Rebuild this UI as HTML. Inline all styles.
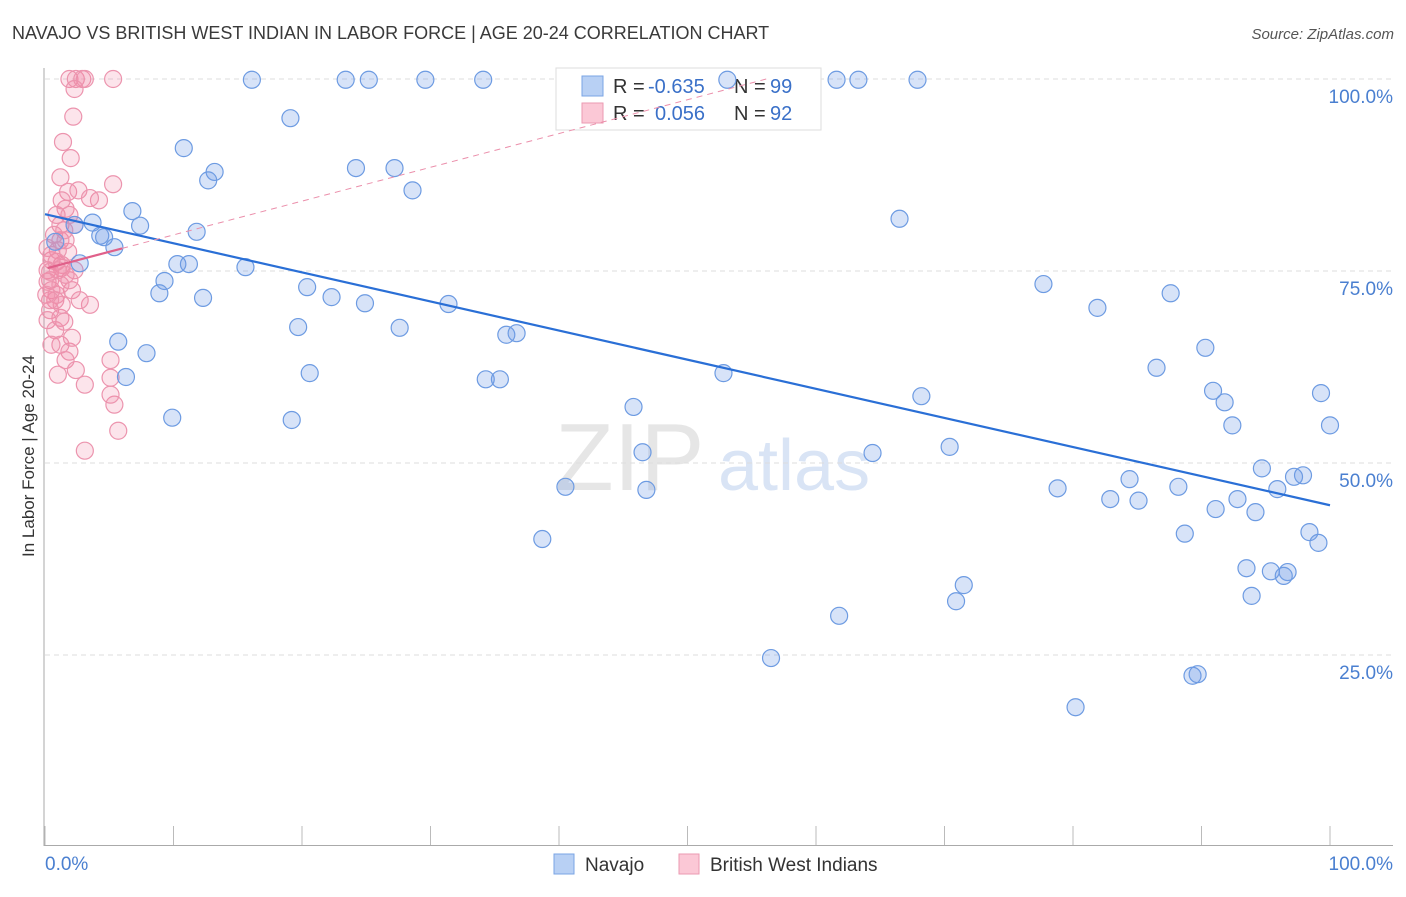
<!DOCTYPE html>
<html><head><meta charset="utf-8"><style>
body{margin:0;background:#fff;font-family:"Liberation Sans",sans-serif;}
svg text{font-family:"Liberation Sans",sans-serif;}
</style></head><body>
<svg id="chart" width="1406" height="892" xmlns="http://www.w3.org/2000/svg">
<text x="12" y="39" font-size="18" fill="#3a3a3a">NAVAJO VS BRITISH WEST INDIAN IN LABOR FORCE | AGE 20-24 CORRELATION CHART</text>
<text x="1394" y="39" font-size="15" fill="#555" font-style="italic" text-anchor="end">Source: ZipAtlas.com</text>
<text transform="translate(34,456) rotate(-90)" font-size="17" fill="#333" text-anchor="middle">In Labor Force | Age 20-24</text>
<g>
<text x="555" y="490" font-size="96" fill="#dcdcdc" font-family="Liberation Serif" opacity="0.7">ZIP</text>
<text x="718" y="490" font-size="72" fill="#c9d9f2" opacity="0.7">atlas</text>
</g>
<g id="grid"></g>
<g id="axes"></g>
<g>
<rect x="556" y="68" width="265" height="62" fill="#fff" stroke="#ddd"/>
<rect x="582" y="76" width="21" height="20" fill="#b8d0f4" stroke="#7aa4e4"/>
<rect x="582" y="103" width="21" height="20" fill="#fbc8d6" stroke="#eb9ab2"/>
<text x="613" y="93" font-size="20" fill="#333">R =</text>
<text x="648" y="93" font-size="20" fill="#3a70c8">-0.635</text>
<text x="734" y="93" font-size="20" fill="#333">N =</text>
<text x="770" y="93" font-size="20" fill="#3a70c8">99</text>
<text x="613" y="120" font-size="20" fill="#333">R =</text>
<text x="655" y="120" font-size="20" fill="#3a70c8">0.056</text>
<text x="734" y="120" font-size="20" fill="#333">N =</text>
<text x="770" y="120" font-size="20" fill="#3a70c8">92</text>
</g>
<g id="pts"></g>
<g id="lines"></g>
<g>
<rect x="554" y="854" width="20" height="20" fill="#b8d0f4" stroke="#7aa4e4"/>
<text x="585" y="871" font-size="19" fill="#333">Navajo</text>
<rect x="679" y="854" width="20" height="20" fill="#fbc8d6" stroke="#eb9ab2"/>
<text x="710" y="871" font-size="19" fill="#333">British West Indians</text>
</g>
</svg>
<script>
const yTicks=[25,50,75,100];
const yTickLabels=["25.0%","50.0%","75.0%","100.0%"];
const xTickLabels=["0.0%","100.0%"];
const navajoX=[16.1,23.4,25.2,29.6,34.1,53.1,61.6,63.3,67.9,19.1,10.8,24.2,27.2,13.2,12.7,28.6,6.8,7.4,2.3,3.7,66.5,11.8,4.3,4.6,0.8,5.4,2.7,10.3,11.2,15.6,9.3,20.4,77.7,8.9,12.3,22.3,87.6,24.9,31.4,81.9,19.7,27.6,35.9,36.7,5.7,7.9,90.3,86.5,52.8,20.6,34.3,35.4,6.3,90.9,99.3,68.2,91.8,45.8,9.9,19.2,92.4,100,46.5,64.4,70.4,94.7,97.9,97.2,40.5,46.8,78.8,84.4,88.2,95.9,82.9,85.1,92.8,91.1,94.2,38.7,88.7,98.4,99.1,93.5,95.4,96.7,96.4,71.5,70.9,93.9,61.8,56.5,89.3,89.7,80.2];
const navajoY=[99.9,99.9,99.9,99.9,99.9,99.9,99.9,99.9,99.9,94.9,91.0,88.4,88.4,87.9,86.8,85.5,82.8,80.9,81.0,81.3,81.8,80.1,79.6,79.4,78.8,78.1,76.0,75.9,75.9,75.5,73.7,72.9,73.3,72.1,71.5,71.6,72.1,70.8,70.7,70.2,67.7,67.6,66.7,66.9,65.8,64.3,65.0,62.4,61.7,61.7,60.9,60.9,61.2,59.4,59.1,58.7,57.9,57.3,55.9,55.6,54.9,54.9,51.4,51.3,52.1,49.3,48.4,48.2,46.9,46.5,46.7,47.9,46.9,46.6,45.3,45.1,45.3,44.0,43.6,40.1,40.8,41.0,39.6,36.3,35.9,35.8,35.3,34.1,32.0,32.7,30.1,24.6,22.3,22.5,18.2];
const bwiX=[1.9,2.4,2.9,3.1,5.3,2.3,2.2,1.4,2.0,1.2,1.8,1.6,2.6,5.3,4.2,3.5,1.2,0.9,1.2,2.3,1.3,0.2,0.4,0.5,0.8,0.4,1.2,2.1,3.5,0.2,0.8,1.2,1.9,1.6,0.5,1.0,2.4,5.1,5.1,5.4,5.7,3.1,5.1,3.1,2.7,2.3,1.8,1.6,0.5,0.2,0.9,1.3,0.4,1.9,1.0,0.7,1.5,2.1,1.3,0.2,0.9,0.4,1.2,0.1,1.6,1.0,0.5,1.5,1.9,1.3];
const bwiY=[100,100,100,100,100,98.7,95.1,91.8,89.7,87.2,85.3,83.1,85.5,86.3,84.2,84.5,81.0,82.3,79.0,81.0,75.8,75.1,73.8,72.5,71.2,69.9,68.9,72.5,70.6,68.6,67.3,65.4,64.5,63.4,65.4,61.5,62.1,63.4,61.1,57.6,54.2,60.2,58.9,51.6,71.2,75.1,77.5,79.0,76.4,73.6,71.9,70.6,71.2,73.8,77.7,79.7,68.4,66.3,75.4,78.0,76.2,74.9,73.2,71.9,74.5,75.1,77.1,80.3,82.3,84.2];
const navajoTrend=[82.4,-0.379];
const bwiTrend=[75.3,0.44];
const X=v=>45+v*12.85, Y=v=>847-v*7.68;
const NS="http://www.w3.org/2000/svg";
function mk(t,a,p){const e=document.createElementNS(NS,t);for(const k in a)e.setAttribute(k,a[k]);p.appendChild(e);return e;}
const grid=document.getElementById('grid'),axes=document.getElementById('axes'),pts=document.getElementById('pts'),lines=document.getElementById('lines');
yTicks.forEach((v,i)=>{
  const l=mk('line',{x1:45,x2:1393,y1:Y(v),y2:Y(v),stroke:'#ddd','stroke-dasharray':'5,4'},grid);
  
  
  const t=mk('text',{x:1393,y:Y(v)+24,'font-size':19,fill:'#4a7fd0','text-anchor':'end'},axes);
  t.textContent=yTickLabels[i];
  
  
});
mk('line',{x1:44,x2:44,y1:68,y2:846,stroke:'#aaa'},axes);
mk('line',{x1:44,x2:1393,y1:845.5,y2:845.5,stroke:'#aaa'},axes);
for(let i=0;i<=10;i++){
  const tk=mk('line',{x1:X(i*10),x2:X(i*10),y1:826,y2:845,stroke:'#bbb'},axes);
  
  
}
[[0,'start'],[100,'end']].forEach((d,i)=>{
  const t=mk('text',{x:i?1393:45,y:870,'font-size':19,fill:'#4a7fd0','text-anchor':d[1]},axes);
  t.textContent=xTickLabels[i];
  
  
});
bwiX.forEach((v,i)=>{
  const c=mk('circle',{cx:X(v),cy:Y(bwiY[i]),r:8.5,fill:'rgba(242,130,163,0.22)',stroke:'#ec94ae','stroke-width':1.2},pts);
  
  
});
navajoX.forEach((v,i)=>{
  const c=mk('circle',{cx:X(v),cy:Y(navajoY[i]),r:8.5,fill:'rgba(110,155,230,0.28)',stroke:'#6d9be2','stroke-width':1.2},pts);
  
  
});
const nl=mk('line',{x1:X(0),y1:Y(navajoTrend[0]),x2:X(100),y2:Y(navajoTrend[0]+navajoTrend[1]*100),stroke:'#2a6fd6','stroke-width':2.2},lines);


const bx=(100-bwiTrend[0])/bwiTrend[1];
const bd=mk('line',{x1:X(6),y1:Y(bwiTrend[0]+bwiTrend[1]*6),x2:X(bx),y2:Y(100),stroke:'#eb8fab','stroke-width':1,'stroke-dasharray':'6,5'},lines);


const bs=mk('line',{x1:X(0.2),y1:Y(bwiTrend[0]+bwiTrend[1]*0.2),x2:X(6),y2:Y(bwiTrend[0]+bwiTrend[1]*6),stroke:'#e0608a','stroke-width':2.2},lines);


</script>
</body></html>
